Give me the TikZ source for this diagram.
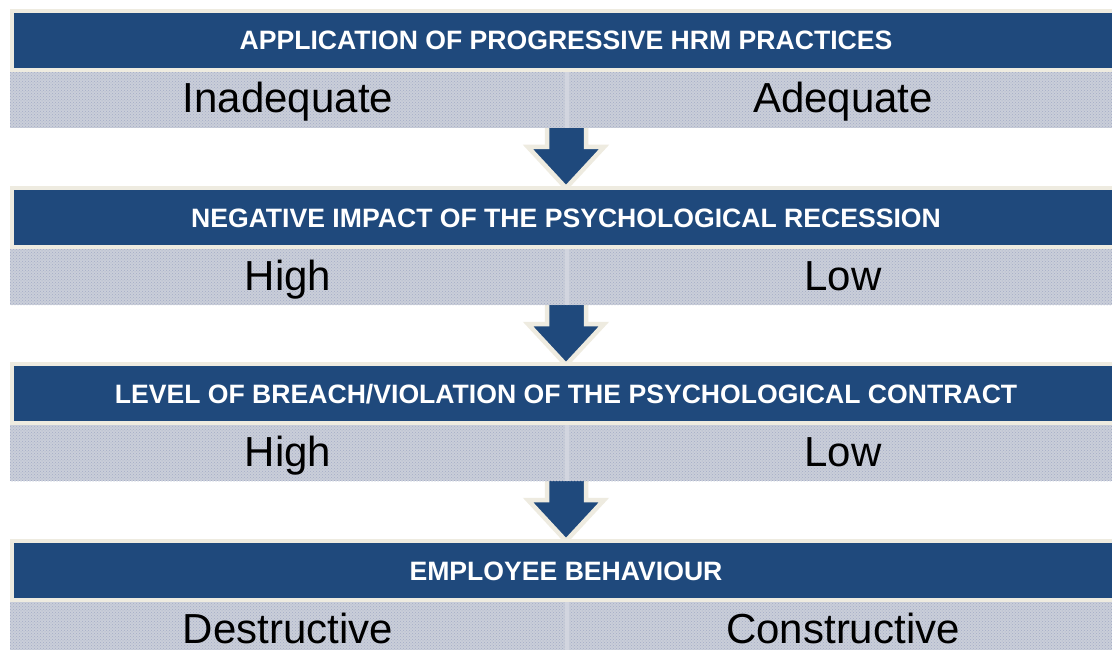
\documentclass[tikz,border=0pt]{standalone}
\usepackage{fontspec}
\setmainfont{Liberation Sans}
\usetikzlibrary{patterns}
\definecolor{hblue}{HTML}{1F497C}
\definecolor{cream}{HTML}{EEEBE0}
\definecolor{bgray}{HTML}{CACED9}
\definecolor{dotc}{HTML}{A3ADC6}
\tikzset{
  header/.style={fill=hblue, draw=cream, line width=3.5pt},
  band/.style={fill=bgray, draw=none},
  bandpat/.style={pattern=crosshatch dots, pattern color=dotc},
  sep/.style={draw=bgray!85!white, line width=4pt},
  htext/.style={text=white, font=\fontsize{26.6}{31}\bfseries\selectfont, anchor=base, inner sep=0pt},
  vtext/.style={text=black, font=\fontsize{42}{48}\selectfont, anchor=base, inner sep=0pt},
  darrow/.style={fill=hblue, draw=cream, line width=4.5pt, line join=miter}
}
\begin{document}
\begin{tikzpicture}[x=1pt,y=-1pt]
\useasboundingbox (0,0) rectangle (1112,650);
\clip (0,0) rectangle (1112,650);
\fill[white] (0,0) rectangle (1112,650);
% arrows
\foreach \o/\n in {0/a1,177/a2,353/a3}{
  \draw[darrow] (547,128+\o) -- (547,147+\o) -- (528,147+\o) -- (566,188+\o)
     -- (604,147+\o) -- (586,147+\o) -- (586,128+\o);
}
% blocks
\foreach \o/\h/\l/\r [count=\i] in {
  0/{APPLICATION OF PROGRESSIVE HRM PRACTICES}/Inadequate/Adequate,
  177/{NEGATIVE IMPACT OF THE PSYCHOLOGICAL RECESSION}/High/Low,
  353/{LEVEL OF BREACH/VIOLATION OF THE PSYCHOLOGICAL CONTRACT}/High/Low,
  530/{EMPLOYEE BEHAVIOUR}/Destructive/Constructive}{
  \fill[band] (10,70+\o) rectangle (1125,128+\o);
  \fill[bandpat] (10,70+\o) rectangle (1125,128+\o);
  \draw[sep] (567,70+\o) -- (567,128+\o);
  \draw[header] (12,11+\o) rectangle (1125,70+\o);
  \node[htext] (h\i) at (566,50+\o) {\h};
  \node[vtext] (l\i) at (288,113+\o) {\l};
  \node[vtext] (r\i) at (843,113+\o) {\r};
}
\end{tikzpicture}
\end{document}
